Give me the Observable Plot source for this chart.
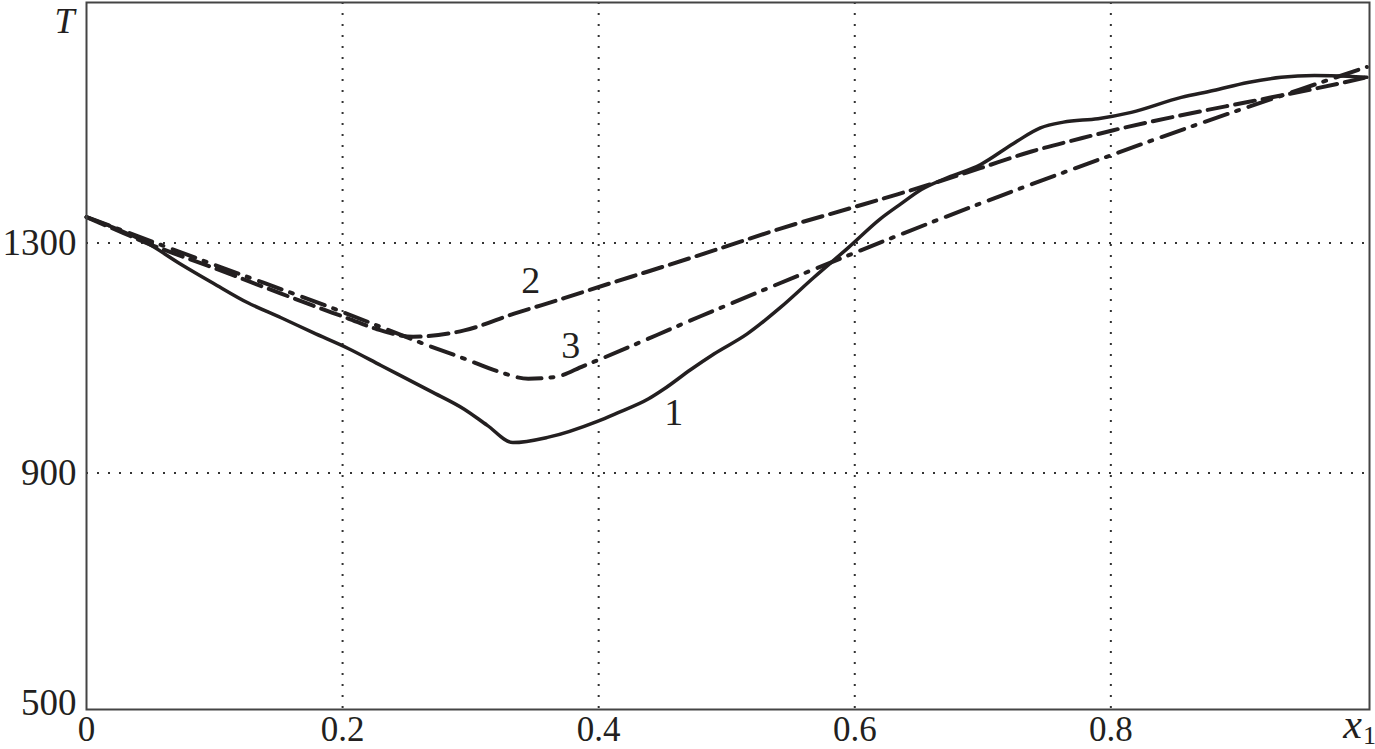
<!DOCTYPE html>
<html><head><meta charset="utf-8">
<script src="https://cdn.jsdelivr.net/npm/d3@7"></script>
<script src="https://cdn.jsdelivr.net/npm/@observablehq/plot@0.6"></script>
<style>html,body{margin:0;padding:0;background:#fff;overflow:hidden;}</style>
</head><body><div id="chart"></div>
<script>
// Curve 1 (solid)
const curve1X = [0,0.021,0.048,0.073,0.099,0.126,0.152,0.177,0.204,0.230,0.269,0.295,0.313,0.333,0.360,0.399,0.413,0.439,0.451,0.472,0.490,0.516,0.542,0.568,0.595,0.620,0.636,0.652,0.673,0.698,0.724,0.745,0.763,0.790,0.816,0.855,0.880,0.907,0.933,0.959,0.985,1.0];
const curve1T = [1345,1327,1299,1264,1230,1196,1170,1144,1117,1087,1042,1011,983,953,962,990,1003,1029,1046,1080,1107,1142,1188,1240,1292,1342,1368,1393,1414,1436,1473,1500,1510,1516,1527,1553,1565,1579,1588,1591,1590,1588];
// Curve 2 (dashed)
const curve2X = [0,0.029,0.048,0.073,0.099,0.126,0.152,0.177,0.204,0.227,0.255,0.295,0.334,0.373,0.412,0.438,0.490,0.542,0.599,0.634,0.659,0.698,0.738,0.777,0.802,0.855,0.907,0.959,1.0];
const curve2T = [1345,1317,1299,1278,1257,1234,1212,1191,1169,1150,1137,1148,1177,1204,1232,1250,1287,1325,1362,1385,1402,1430,1459,1482,1496,1522,1545,1568,1588];
// Curve 3 (dash-dot)
const curve3X = [0,0.1,0.2,0.269,0.295,0.321,0.345,0.366,0.388,0.399,0.480,0.558,0.636,0.714,0.792,0.870,0.948,1.0];
const curve3T = [1345,1262,1180,1120,1099,1077,1064,1067,1086,1096,1173,1245,1315,1382,1446,1508,1567,1606];

// Ticks and grid
const xTicks = [0, 0.2, 0.4, 0.6, 0.8];
const xTickLabels = ["0", "0.2", "0.4", "0.6", "0.8"];
const yTicks = [500, 900, 1300];
const yTickLabels = ["500", "900", "1300"];
const xGrid = [0.2, 0.4, 0.6, 0.8];
const yGrid = [900, 1300];

// Curve labels
const labelText = ["1", "2", "3"];
const labelX = [0.4586, 0.3469, 0.3781];
const labelT = [1005, 1235, 1122];

const rows = (xs, ts) => xs.map((x, i) => ({x, T: ts[i]}));
const rows1 = rows(curve1X, curve1T);
const rows2 = rows(curve2X, curve2T);
const rows3 = rows(curve3X, curve3T);
const labels = labelText.map((t, i) => ({t, x: labelX[i], T: labelT[i]}));

const ink = "#231f20";

const chart = Plot.plot({
  width: 1375, height: 749,
  marginLeft: 86, marginRight: 6, marginTop: 2, marginBottom: 40,
  style: {fontFamily: "'Liberation Serif', serif", fontSize: "37px", color: ink, background: "#fff", overflow: "visible"},
  x: {domain: [0, 1.002], label: null},
  y: {domain: [489, 1718], label: null},
  marks: [
    Plot.ruleX(xGrid, {stroke: "#333", strokeWidth: 2, strokeDasharray: "2,9"}),
    Plot.ruleY(yGrid, {stroke: "#333", strokeWidth: 2, strokeDasharray: "2,9"}),
    Plot.axisX({ticks: xTicks, tickFormat: d => xTickLabels[xTicks.indexOf(d)], tickSize: 0, tickPadding: 7, fontSize: 35, label: null}),
    Plot.axisY({ticks: yTicks, tickFormat: d => yTickLabels[yTicks.indexOf(d)], tickSize: 0, tickPadding: 10, fontSize: 37, label: null}),
    Plot.line(rows1, {x: "x", y: "T", stroke: ink, strokeWidth: 3.5, curve: "monotone-x"}),
    Plot.line(rows2, {x: "x", y: "T", stroke: ink, strokeWidth: 4, strokeDasharray: "20,8", curve: "monotone-x"}),
    Plot.line(rows3, {x: "x", y: "T", stroke: ink, strokeWidth: 4, strokeDasharray: "24,9,3,10", curve: "monotone-x"}),
    Plot.frame({stroke: "#444", strokeWidth: 2}),
    Plot.text(labels, {x: "x", y: "T", text: "t", fill: ink, fontSize: 38, textAnchor: "middle", lineAnchor: "middle"}),
    Plot.text(["T"], {text: d => d, frameAnchor: "top-left", dx: -22, dy: 19, textAnchor: "middle", lineAnchor: "middle", fontStyle: "italic", fontSize: 36, fill: ink}),
    Plot.text(["x"], {text: d => d, frameAnchor: "bottom-right", dx: -17, dy: 15, textAnchor: "middle", lineAnchor: "middle", fontStyle: "italic", fontSize: 42, fill: ink}),
    Plot.text(["1"], {text: d => d, frameAnchor: "bottom-right", dx: 0, dy: 26, textAnchor: "middle", lineAnchor: "middle", fontSize: 26, fill: ink})
  ]
});
document.getElementById("chart").appendChild(chart);
</script></body></html>
